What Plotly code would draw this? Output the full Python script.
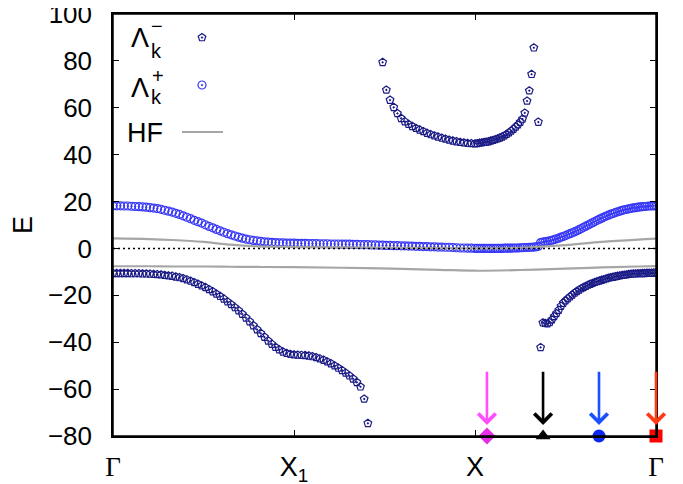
import numpy as np
import plotly.graph_objects as go

# ---------------- data ----------------
# k-path: Gamma(0) - X1(1) - X(2) - Gamma(3)
k_tick_vals = [0, 1, 2, 3]
k_tick_text = ['<span style="font-family:\'Liberation Serif\'">Γ</span>', "X<sub>1</sub>", "X",
               '<span style="font-family:\'Liberation Serif\'">Γ</span>']
y_tick_vals = [-80, -60, -40, -20, 0, 20, 40, 60, 80, 100]

n_seg_a = 99   # k-points from Gamma to X
n_seg_b = 80   # k-points from X to Gamma
k_a = np.linspace(0, 2, n_seg_a)
k_b = 2 + np.arange(1, n_seg_b + 1) / n_seg_b
k_all = np.concatenate([k_a, k_b])

lam_minus_a = [
    -10.6, -10.6, -10.6, -10.6, -10.6, -10.7, -10.7, -10.7, -10.8, -10.8, -10.9,
    -11.0, -11.1, -11.2, -11.4, -11.6, -11.8, -12.1, -12.4, -12.8, -13.3,
    -13.9, -14.5, -15.2, -15.9, -16.6, -17.5, -18.4, -19.4, -20.4, -21.5,
    -22.7, -23.9, -25.2, -26.5, -28.0, -29.6, -31.2, -32.9, -34.6, -36.2,
    -37.8, -39.4, -40.8, -42.1, -43.2, -44.1, -44.7, -45.1, -45.3, -45.4,
    -45.5, -45.6, -45.8, -46.1, -46.5, -47.0, -47.6, -48.3, -49.1, -50.0,
    -51.0, -52.0, -53.1, -54.3, -55.6, -57.1, -59.0, -64.2, -74.6, None,
    None, None, 79.4, 67.6, 63.3, 60.2, 57.6, 55.5, 54.1, 53.0,
    52.1, 51.3, 50.6, 49.9, 49.2, 48.6, 48.1, 47.6, 47.1, 46.7,
    46.3, 45.9, 45.6, 45.3, 45.1, 44.9, 44.8, 44.7,
]
lam_minus_b = [
    44.8, 45.0, 45.1, 45.3, 45.4, 45.6, 45.9, 46.2, 46.5, 46.8,
    47.2, 47.6, 48.1, 48.7, 49.4, 50.1, 50.9, 51.8, 52.8, 53.9,
    55.2, 57.8, 62.9, 67.3, 74.3, 85.6, None, 53.9, -42.2, -31.7,
    -31.9, -32.1, -31.6, -30.4, -29.0, -27.7, -26.3, -24.6, -23.3, -22.3,
    -21.4, -20.6, -19.8, -19.0, -18.3, -17.7, -17.1, -16.6, -16.1, -15.6,
    -15.2, -14.8, -14.4, -14.1, -13.8, -13.5, -13.2, -12.9, -12.6, -12.4,
    -12.2, -12.0, -11.8, -11.6, -11.4, -11.3, -11.2, -11.0, -10.9, -10.8,
    -10.8, -10.7, -10.7, -10.6, -10.6, -10.5, -10.5, -10.5, -10.4, -10.4,
]
lam_plus_a = [
    18.2, 18.2, 18.2, 18.1, 18.1, 18.0, 17.9, 17.8, 17.7, 17.6, 17.4,
    17.2, 17.0, 16.7, 16.3, 15.9, 15.5, 15.0, 14.5, 13.9, 13.3,
    12.7, 12.0, 11.4, 10.8, 10.1, 9.4, 8.8, 8.1, 7.5, 6.9,
    6.3, 5.8, 5.3, 4.8, 4.4, 4.0, 3.7, 3.4, 3.2, 3.0,
    2.8, 2.7, 2.6, 2.5, 2.4, 2.4, 2.3, 2.3, 2.3, 2.2,
    2.2, 2.2, 2.1, 2.1, 2.1, 2.0, 2.0, 2.0, 1.9, 1.9,
    1.9, 1.8, 1.8, 1.8, 1.7, 1.7, 1.6, 1.6, 1.6, 1.5,
    1.5, 1.4, 1.4, 1.3, 1.3, 1.2, 1.2, 1.1, 1.1, 1.0,
    1.0, 0.9, 0.9, 0.8, 0.8, 0.7, 0.7, 0.6, 0.6, 0.5,
    0.5, 0.4, 0.3, 0.2, 0.2, 0.1, 0.1, 0.0,
]
lam_plus_b = [
    0.0, 0.0, 0.0, 0.0, 0.0, 0.0, 0.0, 0.0, 0.0, 0.0,
    0.0, 0.0, 0.1, 0.1, 0.1, 0.1, 0.2, 0.2, 0.2, 0.3,
    0.3, 0.4, 0.4, 0.5, 0.5, 0.6, 0.7, 0.9, 2.5, 2.7,
    2.9, 3.0, 3.2, 3.5, 3.8, 4.1, 4.4, 4.8, 5.1, 5.5,
    5.9, 6.3, 6.7, 7.1, 7.5, 8.0, 8.5, 9.0, 9.5, 10.0,
    10.5, 11.0, 11.5, 12.0, 12.5, 12.9, 13.4, 13.8, 14.2, 14.6,
    14.9, 15.3, 15.6, 15.9, 16.2, 16.5, 16.7, 16.9, 17.1, 17.3,
    17.4, 17.6, 17.7, 17.8, 17.9, 18.0, 18.1, 18.1, 18.2, 18.2,
]
hf_k = [0, 0.2, 0.33, 0.5, 0.65, 0.8, 1.0, 1.4, 1.8, 2.0, 2.25, 2.5, 2.7, 2.9, 3.0]
hf_upper = [4.3, 4.0, 3.6, 2.8, 1.6, 0.9, 0.6, 0.4, 0.1, 0.0, 0.3, 1.4, 2.8, 3.8, 4.2]
hf_lower = [-7.6, -7.6, -7.7, -7.7, -7.8, -7.9, -8.0, -8.4, -9.1, -9.5, -9.2, -8.6, -8.1, -7.7, -7.5]

point_k = [2.066, 2.376, 2.685, 3.0]
point_e = [-80, -80, -80, -80]
arrow_from_e = -52
arrow_to_e = -75.3

lam_minus = lam_minus_a + lam_minus_b
lam_plus = lam_plus_a + lam_plus_b

# ---------------- styles ----------------
NAVY = "#1b1b86"
BLUE = "#3838f6"
GRAY = "#a6a6a6"
FONT = "Liberation Sans, Arial, sans-serif"
point_symbols = ["diamond", "triangle-up", "circle", "square"]
point_colors = ["#e62ee6", "#000000", "#0a28f0", "#ff0000"]
arrow_colors = ["#ff4dff", "#000000", "#1a50ff", "#ff3a14"]

# page offset of the figure (default body margin of the html page)
OFF = 8
W, H = 683 - OFF, 484 - OFF
PL, PR, PT, PB = 113, 656, 14, 436          # plot area in page pixels
L, R, T, B = PL - OFF, W - (PR - OFF), PT - OFF, H - (PB - OFF)
pw, ph = W - L - R, H - T - B


def px(x):
    return (x - PL) / pw


def py(y):
    return (PB - y) / ph


fig = go.Figure()

fig.add_trace(go.Scatter(x=k_all, y=lam_minus, mode="markers", cliponaxis=True,
                         marker=dict(symbol="pentagon-open-dot", size=8, color=NAVY,
                                     line=dict(width=1.2, color=NAVY)),
                         showlegend=False))
fig.add_trace(go.Scatter(x=k_all, y=lam_plus, mode="markers",
                         marker=dict(symbol="circle-open-dot", size=8, color=BLUE,
                                     line=dict(width=1.2, color=BLUE)),
                         showlegend=False))
fig.add_trace(go.Scatter(x=hf_k, y=hf_upper, mode="lines", line=dict(color=GRAY, width=2.2, shape="spline"),
                         showlegend=False))
fig.add_trace(go.Scatter(x=hf_k, y=hf_lower, mode="lines", line=dict(color=GRAY, width=2.2, shape="spline"),
                         showlegend=False))

fig.add_hline(y=0, line=dict(color="black", width=1.5, dash="2px,3px"), layer="above")

# plot frame
fig.add_shape(type="rect", xref="paper", yref="paper", x0=0, x1=1, y0=0, y1=1,
              line=dict(color="black", width=1.5), layer="above")

fig.add_trace(go.Scatter(x=point_k, y=point_e, mode="markers", cliponaxis=False,
                         marker=dict(symbol=point_symbols, size=13, color=point_colors,
                                     line=dict(width=0)),
                         showlegend=False))

for kk, c in zip(point_k, arrow_colors):
    fig.add_annotation(x=kk, y=arrow_to_e, ax=kk, ay=arrow_from_e, xref="x", yref="y",
                       axref="x", ayref="y", text="", showarrow=True, arrowhead=4,
                       arrowsize=1.3, arrowwidth=2.6, arrowcolor=c)

# legend samples on an overlay axis in plot-fraction coordinates
fig.add_trace(go.Scatter(x=[px(202)], y=[py(37.5)], xaxis="x2", yaxis="y2", mode="markers",
                         marker=dict(symbol="pentagon-open-dot", size=8, color=NAVY,
                                     line=dict(width=1.2, color=NAVY)), showlegend=False))
fig.add_trace(go.Scatter(x=[px(202)], y=[py(85)], xaxis="x2", yaxis="y2", mode="markers",
                         marker=dict(symbol="circle-open-dot", size=8, color=BLUE,
                                     line=dict(width=1.2, color=BLUE)), showlegend=False))
fig.add_trace(go.Scatter(x=[px(182), px(223)], y=[py(132), py(132)], xaxis="x2", yaxis="y2",
                         mode="lines", line=dict(color=GRAY, width=2.2), showlegend=False))


def txt(s, x, y, size, xanchor="center"):
    fig.add_annotation(text=s, x=px(x), y=py(y), xref="paper", yref="paper", showarrow=False,
                       xanchor=xanchor, yanchor="middle", font=dict(family=FONT, size=size, color="black"))


txt("Λ", 140, 38, 27)
txt("k", 156, 51, 20)
txt("−", 157, 26, 20)
txt("Λ", 140, 88, 27)
txt("k", 156, 97, 20)
txt("+", 158, 76, 20)
txt("HF", 144.5, 133, 27)

axis_common = dict(showline=True, linecolor="black", linewidth=1.5, mirror="ticks",
                   ticks="inside", tickcolor="black", tickwidth=1.2, showgrid=False, zeroline=False,
                   automargin=False, ticklabeloverflow="allow")

fig.update_layout(
    width=W, height=H, margin=dict(l=L, r=R, t=T, b=B),
    plot_bgcolor="white", paper_bgcolor="white",
    font=dict(family=FONT, color="black"),
    xaxis=dict(range=[0, 3], tickvals=k_tick_vals, ticktext=k_tick_text, ticklen=6,
               tickfont=dict(size=27), ticklabelstandoff=6, **axis_common),
    yaxis=dict(range=[-80, 100], tickvals=y_tick_vals, ticklen=6, tickfont=dict(size=26),
               ticklabelstandoff=14,
               title=dict(text="E", font=dict(size=27), standoff=14), **axis_common),
    xaxis2=dict(overlaying="x", range=[0, 1], visible=False),
    yaxis2=dict(overlaying="y", range=[0, 1], visible=False),
)

fig.write_html("out.html")
